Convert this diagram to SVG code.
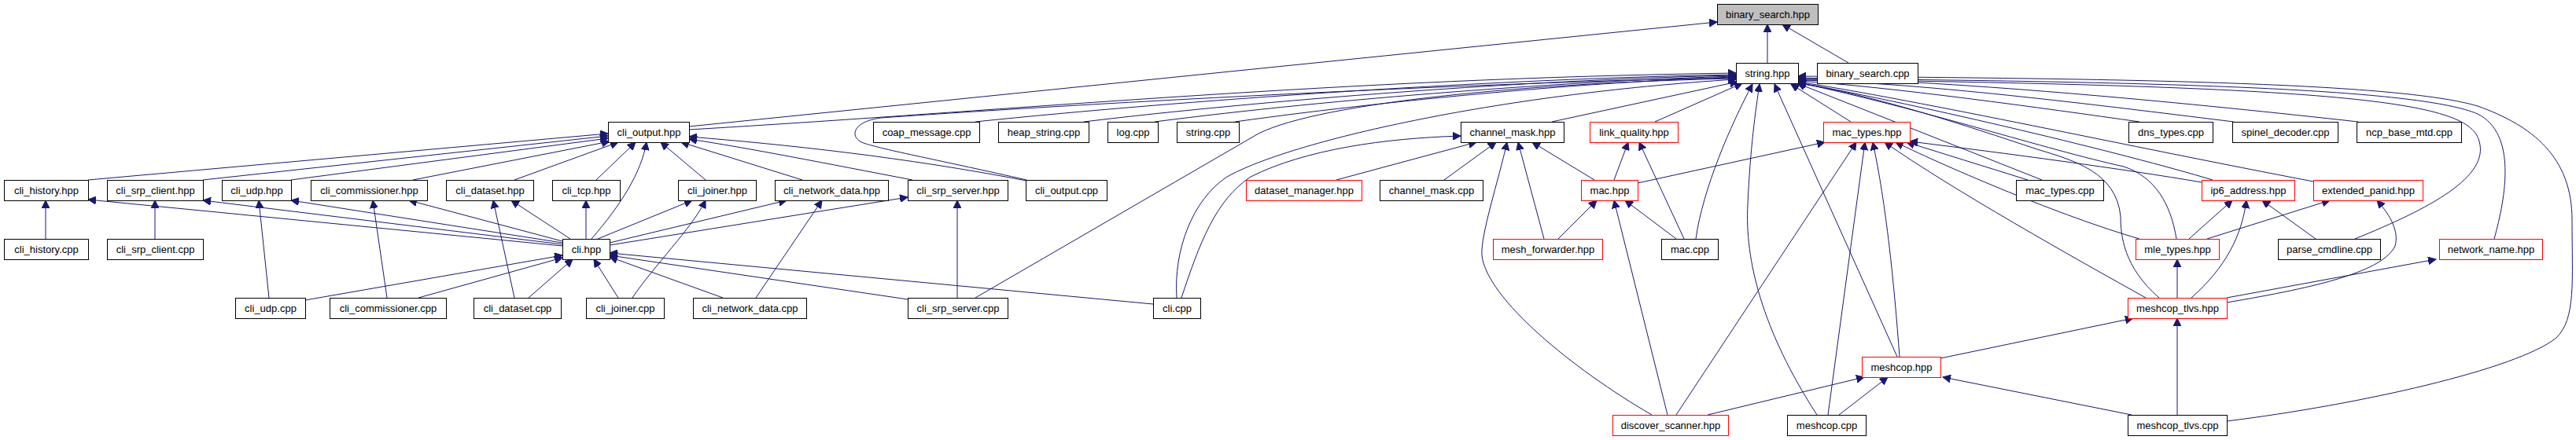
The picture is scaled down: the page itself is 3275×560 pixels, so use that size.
<svg xmlns="http://www.w3.org/2000/svg" width="3275" height="560" viewBox="0 0 3275 560">
<style>
.n rect{fill:#fff;stroke:#000;stroke-width:1}
.n.red rect{stroke:#f00}
.n.root rect{fill:#bfbfbf}
.n text{font-family:"Liberation Sans",Arial,sans-serif;font-size:13px;text-anchor:middle;fill:#000}
#edges path{fill:none;stroke:#191970;stroke-width:1;marker-end:url(#ah)}
</style>
<defs>
<marker id="ah" markerUnits="userSpaceOnUse" markerWidth="11" markerHeight="10" refX="10" refY="5" orient="auto"><path d="M0,0 L10,5 L0,10 z" fill="#191970" stroke="#191970" stroke-width="1"/></marker>
</defs>
<rect x="0" y="0" width="3275" height="560" fill="#fff"/>
<g id="edges">
<path d="M2247,80 L2247,31"/>
<path d="M2350,80 L2266,31"/>
<path d="M876,161 L2183,28"/>
<path d="M876,165 C1300,140 1700,100 2207,93"/>
<path d="M1240,155 C1500,128 1900,100 2207,95"/>
<path d="M1378,155 C1600,128 1950,101 2207,96"/>
<path d="M1468,155 C1700,125 2000,103 2207,97"/>
<path d="M1570,155 C1800,123 2050,103 2207,98"/>
<path d="M1305,229 C1200,205 1120,190 1098,182 C1080,176 1082,155 1120,150 C1400,130 1900,104 2207,99"/>
<path d="M1240,379 L1600,170 C1680,130 1950,105 2207,100"/>
<path d="M1496,379 C1492,320 1515,255 1560,225 C1640,180 1900,120 2207,101"/>
<path d="M1502,379 C1525,310 1545,255 1590,225 C1660,190 1760,176 1857,173"/>
<path d="M1973,155 L2209,104"/>
<path d="M2104,155 L2215,106"/>
<path d="M2353,155 L2277,107"/>
<path d="M2156,304 C2165,240 2200,160 2228,107"/>
<path d="M2310,528 C2240,420 2218,330 2222,260 C2225,190 2232,140 2237,107"/>
<path d="M2412,454 L2256,107"/>
<path d="M2596,229 L2285,106"/>
<path d="M2813,229 C2700,195 2450,135 2286,105"/>
<path d="M2941,231 C2700,185 2450,130 2286,104"/>
<path d="M2745,379 C2700,340 2696,300 2696,275 C2690,220 2640,205 2590,190 C2500,160 2380,120 2286,106"/>
<path d="M2767,304 C2760,260 2740,225 2700,212 C2600,190 2450,140 2286,105"/>
<path d="M3171,304 C3186,250 3200,170 3150,145 C3080,115 2800,104 2286,100"/>
<path d="M2994,304 C3090,265 3165,225 3152,180 C3140,130 3000,110 2286,101"/>
<path d="M2831,536 C3000,515 3200,470 3250,430 C3275,405 3270,360 3270,280 C3270,200 3220,160 3150,135 C3050,105 2700,100 2286,97"/>
<path d="M2720,155 C2600,138 2400,110 2286,103"/>
<path d="M2840,155 C2700,138 2450,105 2286,102"/>
<path d="M2998,155 C2800,133 2500,103 2286,99"/>
<path d="M1699,229 L1877,181"/>
<path d="M1836,229 L1902,181"/>
<path d="M2100,528 C2000,470 1890,380 1884,325 C1882,300 1905,230 1916,181"/>
<path d="M1963,304 L1930,181"/>
<path d="M2027,229 L1948,181"/>
<path d="M2052,229 L2070,181"/>
<path d="M2141,304 L2084,181"/>
<path d="M1981,304 L2030,255"/>
<path d="M2131,304 L2066,255"/>
<path d="M2120,528 L2052,255"/>
<path d="M2082,233 L2320,181"/>
<path d="M2131,528 L2360,181"/>
<path d="M2324,528 L2371,181"/>
<path d="M2415,454 C2408,360 2398,260 2381,181"/>
<path d="M2728,379 C2640,330 2480,240 2396,181"/>
<path d="M2720,304 C2620,275 2480,215 2410,181"/>
<path d="M2799,232 C2700,215 2550,195 2428,180"/>
<path d="M2578,229 L2424,181"/>
<path d="M2783,304 L2838,255"/>
<path d="M2786,379 C2830,340 2850,300 2856,255"/>
<path d="M2944,304 L2876,255"/>
<path d="M2806,304 L2962,255"/>
<path d="M2831,385 C2950,365 3030,345 3045,313 C3050,295 3040,275 3022,255"/>
<path d="M2768,379 L2768,330"/>
<path d="M2831,379 L3097,330"/>
<path d="M2467,456 L2712,405"/>
<path d="M2768,528 L2768,405"/>
<path d="M2171,528 L2370,480"/>
<path d="M2338,528 L2400,480"/>
<path d="M2710,528 L2470,480"/>
<path d="M112,229 L773,170"/>
<path d="M258,229 L773,173"/>
<path d="M370,229 L773,176"/>
<path d="M525,229 L775,180"/>
<path d="M654,229 L786,181"/>
<path d="M758,229 L808,181"/>
<path d="M752,304 C790,260 815,220 822,181"/>
<path d="M897,229 L840,181"/>
<path d="M1020,229 L866,181"/>
<path d="M1160,229 C1050,208 950,188 876,177"/>
<path d="M1305,230 C1150,200 1000,184 876,174"/>
<path d="M715,313 L112,254"/>
<path d="M715,311 L258,255"/>
<path d="M715,309 L370,255"/>
<path d="M715,307 L520,255"/>
<path d="M725,304 L650,255"/>
<path d="M745,304 L745,255"/>
<path d="M760,304 L880,255"/>
<path d="M775,309 L1000,255"/>
<path d="M775,312 L1154,251"/>
<path d="M388,382 L715,325"/>
<path d="M532,379 L715,328"/>
<path d="M672,379 L728,330"/>
<path d="M786,379 L755,330"/>
<path d="M919,379 L775,327"/>
<path d="M1154,381 L775,325"/>
<path d="M1466,387 L775,322"/>
<path d="M58,304 L58,255"/>
<path d="M197,304 L197,255"/>
<path d="M342,379 L329,255"/>
<path d="M492,379 L474,255"/>
<path d="M654,379 L627,255"/>
<path d="M804,379 C830,340 880,290 897,255"/>
<path d="M961,379 L1045,255"/>
<path d="M1217,379 L1217,255"/>
</g>
<g id="n_binary_search_hpp" class="n root"><rect x="2183.5" y="5.5" width="128" height="26"/><text x="2247.5" y="22.5">binary_search.hpp</text></g>
<g id="n_string_hpp" class="n"><rect x="2207.5" y="80.5" width="79" height="26"/><text x="2247" y="97.5">string.hpp</text></g>
<g id="n_binary_search_cpp" class="n"><rect x="2310.5" y="80.5" width="128" height="26"/><text x="2374.5" y="97.5">binary_search.cpp</text></g>
<g id="n_cli_output_hpp" class="n"><rect x="773.5" y="155.5" width="103" height="26"/><text x="825" y="172.5">cli_output.hpp</text></g>
<g id="n_coap_message_cpp" class="n"><rect x="1110.5" y="155.5" width="135" height="26"/><text x="1178" y="172.5">coap_message.cpp</text></g>
<g id="n_heap_string_cpp" class="n"><rect x="1269.5" y="155.5" width="115" height="26"/><text x="1327" y="172.5">heap_string.cpp</text></g>
<g id="n_log_cpp" class="n"><rect x="1408.5" y="155.5" width="64" height="26"/><text x="1440.5" y="172.5">log.cpp</text></g>
<g id="n_string_cpp" class="n"><rect x="1496.5" y="155.5" width="79" height="26"/><text x="1536" y="172.5">string.cpp</text></g>
<g id="n_channel_mask_hpp" class="n"><rect x="1857.5" y="155.5" width="131" height="26"/><text x="1923" y="172.5">channel_mask.hpp</text></g>
<g id="n_link_quality_hpp" class="n red"><rect x="2021.5" y="155.5" width="112" height="26"/><text x="2077.5" y="172.5">link_quality.hpp</text></g>
<g id="n_mac_types_hpp" class="n red"><rect x="2318.5" y="155.5" width="110" height="26"/><text x="2373.5" y="172.5">mac_types.hpp</text></g>
<g id="n_dns_types_cpp" class="n"><rect x="2706.5" y="155.5" width="107" height="26"/><text x="2760" y="172.5">dns_types.cpp</text></g>
<g id="n_spinel_decoder_cpp" class="n"><rect x="2838.5" y="155.5" width="134" height="26"/><text x="2905.5" y="172.5">spinel_decoder.cpp</text></g>
<g id="n_ncp_base_mtd_cpp" class="n"><rect x="2996.5" y="155.5" width="133" height="26"/><text x="3063" y="172.5">ncp_base_mtd.cpp</text></g>
<g id="n_cli_history_hpp" class="n"><rect x="5.5" y="229.5" width="107" height="26"/><text x="59" y="246.5">cli_history.hpp</text></g>
<g id="n_cli_srp_client_hpp" class="n"><rect x="136.5" y="229.5" width="122" height="26"/><text x="197.5" y="246.5">cli_srp_client.hpp</text></g>
<g id="n_cli_udp_hpp" class="n"><rect x="282.5" y="229.5" width="88" height="26"/><text x="326.5" y="246.5">cli_udp.hpp</text></g>
<g id="n_cli_commissioner_hpp" class="n"><rect x="395.5" y="229.5" width="148" height="26"/><text x="469.5" y="246.5">cli_commissioner.hpp</text></g>
<g id="n_cli_dataset_hpp" class="n"><rect x="567.5" y="229.5" width="111" height="26"/><text x="623" y="246.5">cli_dataset.hpp</text></g>
<g id="n_cli_tcp_hpp" class="n"><rect x="702.5" y="229.5" width="86" height="26"/><text x="745.5" y="246.5">cli_tcp.hpp</text></g>
<g id="n_cli_joiner_hpp" class="n"><rect x="862.5" y="229.5" width="99" height="26"/><text x="912" y="246.5">cli_joiner.hpp</text></g>
<g id="n_cli_network_data_hpp" class="n"><rect x="985.5" y="229.5" width="144" height="26"/><text x="1057.5" y="246.5">cli_network_data.hpp</text></g>
<g id="n_cli_srp_server_hpp" class="n"><rect x="1154.5" y="229.5" width="127" height="26"/><text x="1218" y="246.5">cli_srp_server.hpp</text></g>
<g id="n_cli_output_cpp" class="n"><rect x="1304.5" y="229.5" width="103" height="26"/><text x="1356" y="246.5">cli_output.cpp</text></g>
<g id="n_dataset_manager_hpp" class="n red"><rect x="1584.5" y="229.5" width="147" height="26"/><text x="1658" y="246.5">dataset_manager.hpp</text></g>
<g id="n_channel_mask_cpp" class="n"><rect x="1754.5" y="229.5" width="131" height="26"/><text x="1820" y="246.5">channel_mask.cpp</text></g>
<g id="n_mac_hpp" class="n red"><rect x="2010.5" y="229.5" width="72" height="26"/><text x="2046.5" y="246.5">mac.hpp</text></g>
<g id="n_mac_types_cpp" class="n"><rect x="2563.5" y="229.5" width="111" height="26"/><text x="2619" y="246.5">mac_types.cpp</text></g>
<g id="n_ip6_address_hpp" class="n red"><rect x="2799.5" y="229.5" width="118" height="26"/><text x="2858.5" y="246.5">ip6_address.hpp</text></g>
<g id="n_extended_panid_hpp" class="n red"><rect x="2941.5" y="229.5" width="139" height="26"/><text x="3011" y="246.5">extended_panid.hpp</text></g>
<g id="n_cli_history_cpp" class="n"><rect x="5.5" y="304.5" width="107" height="26"/><text x="59" y="321.5">cli_history.cpp</text></g>
<g id="n_cli_srp_client_cpp" class="n"><rect x="136.5" y="304.5" width="122" height="26"/><text x="197.5" y="321.5">cli_srp_client.cpp</text></g>
<g id="n_cli_hpp" class="n"><rect x="715.5" y="304.5" width="60" height="26"/><text x="745.5" y="321.5">cli.hpp</text></g>
<g id="n_mesh_forwarder_hpp" class="n red"><rect x="1898.5" y="304.5" width="139" height="26"/><text x="1968" y="321.5">mesh_forwarder.hpp</text></g>
<g id="n_mac_cpp" class="n"><rect x="2112.5" y="304.5" width="72" height="26"/><text x="2148.5" y="321.5">mac.cpp</text></g>
<g id="n_mle_types_hpp" class="n red"><rect x="2715.5" y="304.5" width="106" height="26"/><text x="2768.5" y="321.5">mle_types.hpp</text></g>
<g id="n_parse_cmdline_cpp" class="n"><rect x="2896.5" y="304.5" width="130" height="26"/><text x="2961.5" y="321.5">parse_cmdline.cpp</text></g>
<g id="n_network_name_hpp" class="n red"><rect x="3101.5" y="304.5" width="131" height="26"/><text x="3167" y="321.5">network_name.hpp</text></g>
<g id="n_cli_udp_cpp" class="n"><rect x="299.5" y="379.5" width="89" height="26"/><text x="344" y="396.5">cli_udp.cpp</text></g>
<g id="n_cli_commissioner_cpp" class="n"><rect x="419.5" y="379.5" width="148" height="26"/><text x="493.5" y="396.5">cli_commissioner.cpp</text></g>
<g id="n_cli_dataset_cpp" class="n"><rect x="602.5" y="379.5" width="111" height="26"/><text x="658" y="396.5">cli_dataset.cpp</text></g>
<g id="n_cli_joiner_cpp" class="n"><rect x="745.5" y="379.5" width="99" height="26"/><text x="795" y="396.5">cli_joiner.cpp</text></g>
<g id="n_cli_network_data_cpp" class="n"><rect x="881.5" y="379.5" width="144" height="26"/><text x="953.5" y="396.5">cli_network_data.cpp</text></g>
<g id="n_cli_srp_server_cpp" class="n"><rect x="1154.5" y="379.5" width="127" height="26"/><text x="1218" y="396.5">cli_srp_server.cpp</text></g>
<g id="n_cli_cpp" class="n"><rect x="1466.5" y="379.5" width="60" height="26"/><text x="1496.5" y="396.5">cli.cpp</text></g>
<g id="n_meshcop_tlvs_hpp" class="n red"><rect x="2705.5" y="379.5" width="126" height="26"/><text x="2768.5" y="396.5">meshcop_tlvs.hpp</text></g>
<g id="n_meshcop_hpp" class="n red"><rect x="2367.5" y="454.5" width="100" height="26"/><text x="2417.5" y="471.5">meshcop.hpp</text></g>
<g id="n_discover_scanner_hpp" class="n red"><rect x="2050.5" y="528.5" width="147" height="26"/><text x="2124" y="545.5">discover_scanner.hpp</text></g>
<g id="n_meshcop_cpp" class="n"><rect x="2272.5" y="528.5" width="100" height="26"/><text x="2322.5" y="545.5">meshcop.cpp</text></g>
<g id="n_meshcop_tlvs_cpp" class="n"><rect x="2705.5" y="528.5" width="126" height="26"/><text x="2768.5" y="545.5">meshcop_tlvs.cpp</text></g>
</svg>
